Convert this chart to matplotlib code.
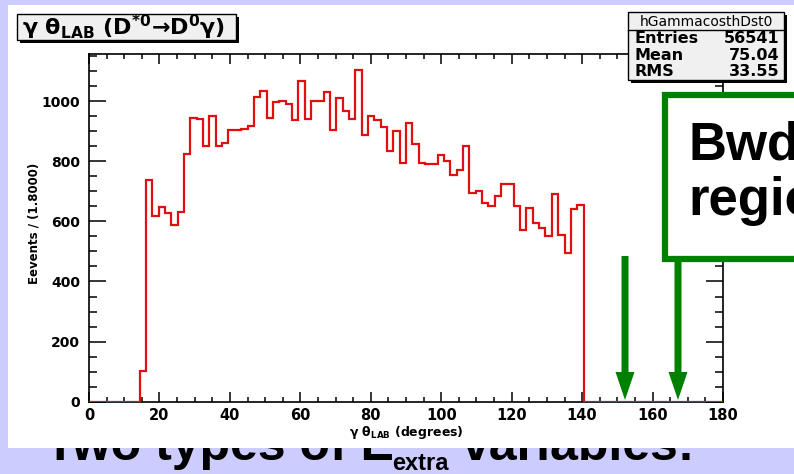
import numpy as np
import matplotlib
matplotlib.use('Agg')
import matplotlib.pyplot as plt
from matplotlib.patches import Rectangle, FancyArrow
from matplotlib.ticker import MultipleLocator

plt.rcParams['font.family'] = ['DejaVu Sans']
plt.rcParams['font.weight'] = 'bold'

# histogram binning: 100 bins of 1.8 degrees from 0 to 180
n_bins = 100
x_lo, x_hi = 0, 180

# bin contents
counts = [0, 0, 0, 0, 0, 0, 0, 0, 103, 739,
          619, 647, 628, 587, 630, 825, 945, 942, 852, 952,
          852, 861, 905, 905, 909, 917, 1015, 1033, 945, 997,
          1002, 989, 939, 1067, 942, 1000, 1000, 1030, 905, 1009,
          967, 942, 1103, 887, 950, 939, 915, 833, 900, 795,
          926, 856, 795, 792, 792, 822, 800, 756, 770, 850,
          695, 700, 661, 650, 686, 726, 724, 650, 572, 645,
          595, 578, 550, 692, 556, 495, 642, 656, 0, 0,
          0, 0, 0, 0, 0, 0, 0, 0, 0, 0,
          0, 0, 0, 0, 0, 0, 0, 0, 0, 0]

x_ticks = [0, 20, 40, 60, 80, 100, 120, 140, 160, 180]
y_ticks = [0, 200, 400, 600, 800, 1000]

stats_name = 'hGammacosthDst0'
stats_rows = [('Entries', '56541'), ('Mean', '75.04'), ('RMS', '33.55')]

arrow_x = [625, 678]   # pixel positions of the two green arrows

W, H = 794, 474
fig = plt.figure(figsize=(W / 100, H / 100), dpi=100, facecolor='#ccccff')

def fx(px):
    return px / W

def fy(py):
    return 1 - py / H

# slide text behind the white panel (only its lower edge shows)
big = ['Liberation Sans', 'DejaVu Sans']
fig.text(fx(45), fy(460), 'Two types of E', fontsize=36, family=big, weight='bold',
         va='baseline', zorder=-1)
fig.text(fx(392), fy(470), 'extra', fontsize=17, family=big, weight='bold',
         va='baseline', zorder=-1)
fig.text(fx(462), fy(460), 'variables:', fontsize=36, family=big, weight='bold',
         va='baseline', zorder=-1)

# white panel of the screenshot
panel = fig.add_axes([fx(8), fy(448), (W - 8) / W, 443 / H], zorder=0)
panel.set_facecolor('white')
panel.set_xticks([])
panel.set_yticks([])
for s in panel.spines.values():
    s.set_visible(False)

# main histogram
ax = fig.add_axes([fx(89), fy(401.7), (723 - 89) / W, (401.7 - 54) / H], zorder=1)
edges = np.linspace(x_lo, x_hi, n_bins + 1)
ax.stairs(counts, edges, color='#e01010', lw=1.6, baseline=0, zorder=3)
ax.set_xlim(0, 180)
ax.set_ylim(0, 1157)
ax.set_xticks(x_ticks)
ax.set_yticks(y_ticks)
ax.xaxis.set_minor_locator(MultipleLocator(5))
ax.yaxis.set_minor_locator(MultipleLocator(50))
ax.tick_params(which='both', direction='in', top=True, right=True, width=1.1)
ax.tick_params(axis='x', which='major', length=7, pad=4.5, labelsize=10.5)
ax.tick_params(axis='x', which='minor', length=3.5)
ax.tick_params(axis='y', which='major', length=12, pad=6.5, labelsize=10)
ax.tick_params(axis='y', which='minor', length=6)
for s in ax.spines.values():
    s.set_linewidth(1.2)
ax.set_xlabel(r'γ θ$_{\mathbf{LAB}}$ (degrees)', fontsize=9, fontweight='bold')
ax.xaxis.set_label_coords(0.5, -0.064)
ax.set_ylabel('Eevents / (1.8000)', fontsize=8.5, fontweight='bold')
ax.yaxis.set_label_coords(-0.077, 0.5125)

# overlay: title box, stats box, green annotation
ov = fig.add_axes([0, 0, 1, 1], zorder=2)
ov.set_xlim(0, W)
ov.set_ylim(H, 0)
ov.axis('off')

ov.add_patch(Rectangle((20, 17), 219, 26, facecolor='black', edgecolor='none'))
ov.add_patch(Rectangle((17, 14), 219, 26, facecolor='#f0f0f0', edgecolor='black', lw=1))
ov.text(22, 27.5, r'γ θ$_{\mathbf{LAB}}$ (D$^{\mathbf{*0}}$→D$^{\mathbf{0}}$γ)',
        fontsize=16, fontweight='bold', va='center', ha='left')

ov.add_patch(Rectangle((631, 15), 156, 68, facecolor='black', edgecolor='none'))
ov.add_patch(Rectangle((628, 12), 156, 68, facecolor='#f0f0f0', edgecolor='black', lw=1))
ov.plot([628, 784], [30, 30], color='black', lw=1)
ov.text(706, 21.5, stats_name, fontsize=10, fontweight='normal', ha='center', va='center')
for i, (lab, val) in enumerate(stats_rows):
    yy = 38.5 + 16.5 * i
    ov.text(634, yy, lab, fontsize=11.5, fontweight='bold', ha='left', va='center')
    ov.text(779, yy, val, fontsize=11.5, fontweight='bold', ha='right', va='center')

ov.add_patch(Rectangle((665, 95), 200, 164, facecolor='white', edgecolor='#008000', lw=4.5))
bwd = ['Liberation Sans', 'DejaVu Sans']
ov.text(688, 160, 'Bwd', fontsize=38, family=bwd, fontweight='bold', va='baseline')
ov.text(688, 215, 'region', fontsize=38, family=bwd, fontweight='bold', va='baseline')

for xa, y0 in zip(arrow_x, [256, 262]):
    ov.add_patch(FancyArrow(xa, y0, 0, 400 - y0, width=7, head_width=19, head_length=28,
                            length_includes_head=True, color='#008000', lw=0))

fig.savefig('out.png', dpi=100, facecolor=fig.get_facecolor())
